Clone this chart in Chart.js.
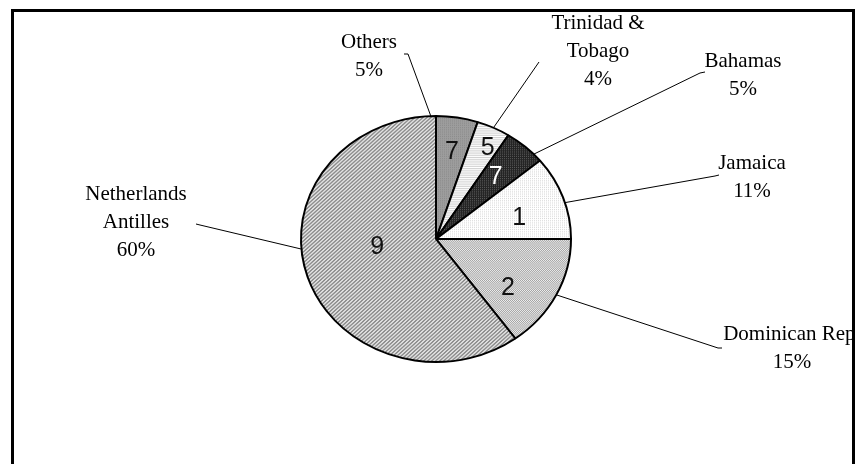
<!DOCTYPE html>
<html>
<head>
<meta charset="utf-8">
<script src="https://cdn.jsdelivr.net/npm/chart.js@4.4.1/dist/chart.umd.min.js"></script>
<style>
  html, body { margin: 0; padding: 0; background: #ffffff; }
  #wrap { width: 857px; height: 464px; position: relative; }
</style>
</head>
<body>
<div id="wrap"><canvas id="chart"></canvas></div>
<script>
// Share of total by origin (percent), clockwise from 12 o'clock
const countries = ['Others', 'Trinidad & Tobago', 'Bahamas', 'Jamaica', 'Dominican Rep', 'Netherlands Antilles'];
const shares = [5, 4, 5, 11, 15, 60];
// Code figures printed inside each slice
const sliceCodes = ['7', '5', '7', '1', '2', '9'];
// Outside label text lines (percentage is appended below)
const labelLines = [['Others'], ['Trinidad &', 'Tobago'], ['Bahamas'], ['Jamaica'], ['Dominican Rep.'], ['Netherlands', 'Antilles']];

// ---- styling ----
const ELLIPSE_K = 123 / 135;   // vertical squash of the pie
const SERIF = '21px "Liberation Serif", "Times New Roman", serif';
const SANS = '25px "Liberation Sans", Arial, sans-serif';

function makePattern(w, h, bg, fg, cells) {
  const c = document.createElement('canvas');
  c.width = w; c.height = h;
  const g = c.getContext('2d');
  g.fillStyle = bg; g.fillRect(0, 0, w, h);
  g.fillStyle = fg;
  cells.forEach(([x, y]) => g.fillRect(x, y, 1, 1));
  return g.createPattern(c, 'repeat');
}
const fills = [
  makePattern(2, 2, '#9d9d9d', '#8c8c8c', [[0, 0]]),
  makePattern(2, 2, '#ffffff', '#d2d2d2', [[0, 1], [1, 1]]),
  makePattern(2, 2, '#242424', '#585858', [[0, 0]]),
  makePattern(2, 2, '#ffffff', '#dadada', [[0, 0]]),
  makePattern(2, 2, '#eeeeee', '#a2a2a2', [[0, 0], [1, 1]]),
  makePattern(4, 4, '#e0e0e0', '#8e8e8e', [[0, 0], [1, 3], [2, 2], [3, 1], [0, 3], [1, 2], [2, 1], [3, 0]])
];
const codeColors = ['#111', '#111', '#fff', '#111', '#111', '#111'];
// inner code placement: [radius fraction, angle shift in degrees]
const codePlace = [[0.72, 0.5], [0.83, 2.3], [0.67, 0], [0.64, 4.3], [0.665, 9.7], [0.44, 9.5]];
// leader line: angle shift from slice middle (deg), and outer polyline points
const leaderShift = [-11.2, 0, 5, 2.6, 0, 13.3];
const leaderOuter = [
  [[404, 54], [408, 54]],
  [[539, 62]],
  [[705, 72], [700, 73]],
  [[719, 175], [715, 176]],
  [[722, 348], [718, 348]],
  [[196, 224], [200, 225]]
];
// outside label block: center x, first baseline
const labelAnchor = [[369, 48], [598, 29], [743, 67], [752, 169], [792, 340], [136, 200]];
const LINE_GAP = 28;

const DEG = Math.PI / 180;
function ellipsePoint(arc, angle, frac) {
  return {
    x: arc.x + Math.cos(angle) * arc.outerRadius * frac,
    y: arc.y + Math.sin(angle) * arc.outerRadius * frac * ELLIPSE_K
  };
}

const ellipsePlugin = {
  id: 'ellipse',
  beforeDatasetsDraw(chart) {
    const arc = chart.getDatasetMeta(0).data[0];
    const ctx = chart.ctx;
    ctx.save();
    ctx.translate(0, arc.y);
    ctx.scale(1, ELLIPSE_K);
    ctx.translate(0, -arc.y);
  },
  afterDatasetsDraw(chart) {
    chart.ctx.restore();
  }
};

const annotatePlugin = {
  id: 'annotate',
  afterDraw(chart) {
    const ctx = chart.ctx;
    const arcs = chart.getDatasetMeta(0).data;

    ctx.save();
    ctx.beginPath();
    ctx.rect(14, 12, 838, 460);
    ctx.clip();

    // codes inside slices
    ctx.font = SANS;
    ctx.textAlign = 'center';
    ctx.textBaseline = 'middle';
    arcs.forEach((arc, i) => {
      const mid = (arc.startAngle + arc.endAngle) / 2 + codePlace[i][1] * DEG;
      const p = ellipsePoint(arc, mid, codePlace[i][0]);
      ctx.fillStyle = codeColors[i];
      ctx.fillText(sliceCodes[i], p.x, p.y);
    });

    // leader lines
    ctx.strokeStyle = '#000';
    ctx.lineWidth = 1;
    arcs.forEach((arc, i) => {
      const mid = (arc.startAngle + arc.endAngle) / 2 + leaderShift[i] * DEG;
      const rim = ellipsePoint(arc, mid, 1.0);
      const pts = leaderOuter[i];
      ctx.beginPath();
      ctx.moveTo(pts[0][0], pts[0][1]);
      for (let k = 1; k < pts.length; k++) ctx.lineTo(pts[k][0], pts[k][1]);
      ctx.lineTo(rim.x, rim.y);
      ctx.stroke();
    });

    // outside labels
    ctx.font = SERIF;
    ctx.fillStyle = '#000';
    ctx.textAlign = 'center';
    ctx.textBaseline = 'alphabetic';
    labelLines.forEach((lines, i) => {
      const all = lines.concat([shares[i] + '%']);
      const [cx, y0] = labelAnchor[i];
      all.forEach((t, k) => ctx.fillText(t, cx, y0 + k * LINE_GAP));
    });
    ctx.restore();

    // frame
    ctx.save();
    ctx.strokeStyle = '#000';
    ctx.lineWidth = 3;
    ctx.strokeRect(12.5, 10.5, 841, 470);
    ctx.restore();
  }
};

new Chart(document.getElementById('chart'), {
  type: 'pie',
  data: {
    labels: countries,
    datasets: [{
      data: shares,
      backgroundColor: fills,
      borderColor: '#000000',
      borderWidth: 2,
      clip: false
    }]
  },
  options: {
    responsive: true,
    maintainAspectRatio: false,
    animation: false,
    events: [],
    layout: { padding: { left: 300, right: 285, top: 103, bottom: 89 } },
    plugins: {
      legend: { display: false },
      tooltip: { enabled: false }
    }
  },
  plugins: [ellipsePlugin, annotatePlugin]
});
</script>
</body>
</html>
